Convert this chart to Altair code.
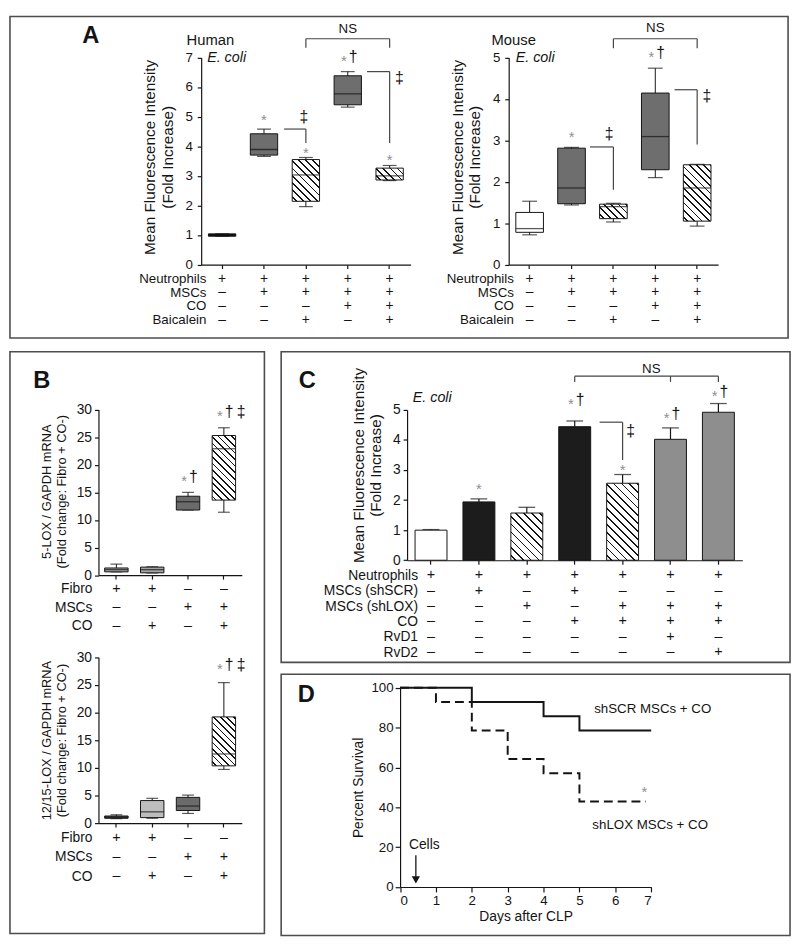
import altair as alt
import pandas as pd

FONT = "Liberation Sans"
INK = "#141414"
STARC = "#8f8f8f"
LINEC = "#444444"

# ---------------- Panel A data ----------------
A_rows = ["Neutrophils", "MSCs", "CO", "Baicalein"]
A_signs = [
    ["+", "+", "+", "+", "+"],
    ["–", "+", "+", "+", "+"],
    ["–", "–", "–", "+", "+"],
    ["–", "–", "+", "–", "+"],
]
human_min = [0.96, 3.66, 1.96, 5.32, 2.84]
human_q1 = [0.96, 3.70, 2.14, 5.40, 2.86]
human_med = [1.00, 3.89, 3.03, 5.77, 3.00]
human_q3 = [1.04, 4.42, 3.55, 6.38, 3.26]
human_max = [1.04, 4.58, 3.62, 6.52, 3.35]
human_fill = ["#111111", "#6e6e6e", "hatch", "#6e6e6e", "hatch"]
human_marks = [(1, 5.01, "*"), (2, 3.90, "*"), (3, 7.01, "*†"), (4, 3.67, "*")]
human_notes = [(1.95, 4.98, "‡"), (4.23, 6.29, "‡"), (3.0, 7.96, "NS")]
human_brackets = [(1.48, 2.0, 4.58, 4.58), (2.0, 2.0, 4.58, 4.11),
                  (3.46, 4.0, 6.52, 6.52), (4.0, 4.0, 6.52, 4.11),
                  (2.0, 4.0, 7.63, 7.63), (2.0, 2.0, 7.63, 7.33), (4.0, 4.0, 7.63, 7.33)]
human_labels = [(-0.85, 7.57, "Human", "normal"), (-0.357, 6.99, "E. coli", "italic")]
A_letter = [(-3.34, 7.50, "A")]

mouse_min = [0.72, 1.44, 1.03, 2.10, 0.93]
mouse_q1 = [0.78, 1.47, 1.11, 2.29, 1.05]
mouse_med = [0.87, 1.85, 1.40, 3.09, 1.85]
mouse_q3 = [1.26, 2.81, 1.46, 4.14, 2.41]
mouse_max = [1.53, 2.83, 1.48, 4.74, 2.42]
mouse_fill = ["#ffffff", "#6e6e6e", "hatch", "#6e6e6e", "hatch"]
mouse_marks = [(1, 3.17, "*"), (3, 5.10, "*†")]
mouse_notes = [(1.90, 3.14, "‡"), (4.23, 4.07, "‡"), (3.0, 5.70, "NS")]
mouse_brackets = [(1.44, 2.0, 2.84, 2.84), (2.0, 2.0, 2.84, 1.81),
                  (3.46, 4.0, 4.22, 4.22), (4.0, 4.0, 4.22, 2.90),
                  (2.0, 4.0, 5.45, 5.45), (2.0, 2.0, 5.45, 5.22), (4.0, 4.0, 5.45, 5.22)]
mouse_labels = [(-0.91, 5.41, "Mouse", "normal"), (-0.333, 4.98, "E. coli", "italic")]

# ---------------- Panel B data ----------------
B_rows = ["Fibro", "MSCs", "CO"]
B_signs = [["+", "+", "–", "–"], ["–", "–", "+", "+"], ["–", "+", "–", "+"]]
lox5_min = [0.60, 0.40, 11.8, 11.4]
lox5_q1 = [0.60, 0.42, 11.8, 13.6]
lox5_med = [1.00, 1.00, 13.3, 22.9]
lox5_q3 = [1.30, 1.46, 14.3, 25.3]
lox5_max = [2.00, 1.52, 15.0, 26.7]
lox5_fill = ["#a3a3a3", "#a3a3a3", "#6b6b6b", "hatch"]
lox5_marks = [(2, 17.7, "*†"), (3, 29.5, "*†‡")]
B_letter = [(-2.32, 33.98, "B")]

lox12_min = [0.80, 0.87, 1.74, 9.7]
lox12_q1 = [0.87, 0.99, 2.27, 10.35]
lox12_med = [1.05, 2.03, 3.08, 12.5]
lox12_q3 = [1.28, 4.07, 4.65, 19.2]
lox12_max = [1.50, 4.48, 5.06, 25.4]
lox12_fill = ["#505050", "#bdbdbd", "#6b6b6b", "hatch"]
lox12_marks = [(3, 28.5, "*†‡")]

# ---------------- Panel C data ----------------
C_rows = ["Neutrophils", "MSCs (shSCR)", "MSCs (shLOX)", "CO", "RvD1", "RvD2"]
C_signs = [
    ["+", "+", "+", "+", "+", "+", "+"],
    ["–", "+", "–", "+", "–", "–", "–"],
    ["–", "–", "+", "–", "+", "+", "+"],
    ["–", "–", "–", "+", "+", "+", "+"],
    ["–", "–", "–", "–", "–", "+", "–"],
    ["–", "–", "–", "–", "–", "–", "+"],
]
C_mean = [1.00, 1.94, 1.57, 4.44, 2.56, 4.02, 4.92]
C_top = [1.02, 2.04, 1.76, 4.63, 2.85, 4.40, 5.21]
C_fill = ["#ffffff", "#1c1c1c", "hatch", "#1c1c1c", "hatch", "#8e8e8e", "#8e8e8e"]
C_marks = [(1, 2.50, "*"), (3, 5.32, "*†"), (4, 3.12, "*"), (5, 4.87, "*†"), (6, 5.58, "*†")]
C_notes = [(4.17, 4.30, "‡"), (4.6, 6.36, "NS")]
C_brackets = [(3.52, 4.0, 4.59, 4.59), (4.0, 4.0, 4.59, 3.33),
              (3.0, 6.0, 6.12, 6.12), (3.0, 3.0, 6.12, 5.93), (5.0, 5.0, 6.12, 5.93), (6.0, 6.0, 6.12, 5.93)]
C_labels = [(-0.38, 5.39, "E. coli", "italic")]
C_letter = [(-2.76, 5.74, "C")]

# ---------------- Panel D data ----------------
D_scr_day = [0, 2, 4, 5, 7]
D_scr_pct = [100, 92.9, 85.7, 78.6, 78.6]
D_lox_day = [0, 1, 2, 3, 4, 5, 6.85]
D_lox_pct = [100, 92.9, 78.6, 64.3, 57.1, 42.9, 42.9]
D_labels = [(5.41, 89.5, "shSCR MSCs + CO"), (5.36, 31.1, "shLOX MSCs + CO")]
D_star = [(6.81, 49.4, "*")]
D_cells = [(0.675, 20.9, "Cells")]
D_arrow = [(0.44, 15.9, 5.0, 3.6)]
D_letter = [(-2.85, 92.7, "D")]

# ---------------- layout helpers ----------------
SX = 789 / 797
SY = 928 / 945


def lx(x, left):
    return (x - left) * SX


def ly(y, top):
    return (y - top) * SY


def hatch(w, h, period=7.0, lw=1.25):
    L = w + h
    k = L / (w * w + h * h)
    e = (lw * 1.414 / 2) / L
    stops = [{"color": "white", "offset": 0.0}]
    c = period * 0.6
    while c < L:
        t = c / L
        a, b = max(t - e, 0.0), min(t + e, 1.0)
        stops += [{"color": "white", "offset": a}, {"color": INK, "offset": a},
                  {"color": INK, "offset": b}, {"color": "white", "offset": b}]
        c += period
    stops.append({"color": "white", "offset": 1.0})
    return {"gradient": "linear", "stops": stops, "x1": 0, "y1": 1, "x2": k * w, "y2": 1 - k * h}


def text_layer(rows, xs, ys, **mk):
    df = pd.DataFrame(rows, columns=["x", "y", "t"])
    return alt.Chart(df).mark_text(font=FONT, **mk).encode(
        x=alt.X("x:Q", scale=xs, axis=None),
        y=alt.Y("y:Q", scale=ys, axis=None),
        text="t:N")


def letter_layer(rows, xs, ys):
    return text_layer(rows, xs, ys, fontSize=24, fontWeight="bold", color=INK,
                      align="left", baseline="alphabetic")


def annot_layers(xs, ys, marks, notes, brackets, labels):
    L = []
    solo = [(x, y, "*") for x, y, t in marks if t == "*"]
    combo = [(x, y, "*") for x, y, t in marks if t != "*"]
    dag = [(x, y, t[1:].replace("†‡", "†\u2009‡")) for x, y, t in marks if t != "*"]
    if solo:
        L.append(text_layer(solo, xs, ys, fontSize=15, color=STARC, dy=4, baseline="middle"))
    if combo:
        L.append(text_layer(combo, xs, ys, fontSize=15, color=STARC, dy=4, dx=-1, align="right", baseline="middle"))
        L.append(text_layer(dag, xs, ys, fontSize=16, color=INK, dx=1, align="left", baseline="middle"))
    dg = [n for n in notes if n[2] != "NS"]
    ns = [n for n in notes if n[2] == "NS"]
    if dg:
        L.append(text_layer(dg, xs, ys, fontSize=16, color=INK, baseline="middle"))
    if ns:
        L.append(text_layer(ns, xs, ys, fontSize=13.5, color=INK, baseline="middle"))
    if brackets:
        bdf = pd.DataFrame(brackets, columns=["x", "x2", "y", "y2"])
        L.append(alt.Chart(bdf).mark_rule(color=LINEC, strokeWidth=1.2).encode(
            x=alt.X("x:Q", scale=xs, axis=None), x2="x2:Q",
            y=alt.Y("y:Q", scale=ys, axis=None), y2="y2:Q"))
    for st in ["normal", "italic"]:
        rows = [(x, y, t) for x, y, t, s in labels if s == st]
        if rows:
            L.append(text_layer(rows, xs, ys, fontSize=15 if st == "normal" else 14.5,
                                fontStyle=st, color=INK, align="left", baseline="middle"))
    return L


def table_layer(xq, left, top, lay, rows, signs, n):
    rs = alt.Scale(type="point", domain=rows,
                   range=[ly(lay["rows"][0], top), ly(lay["rows"][-1], top)], padding=0)
    sdf = pd.DataFrame([{"i": i, "row": r, "s": signs[j][i]}
                        for j, r in enumerate(rows) for i in range(n)])
    raxis = alt.Axis(orient="left", domain=False, ticks=False, tickSize=0, labelPadding=0,
                     labelFontSize=lay["rfs"], offset=-lx(lay["row_right"], left), title=None,
                     labelOverlap=False, labelAlign="right", labelBaseline="middle", grid=False)
    return alt.Chart(sdf).mark_text(font=FONT, fontSize=lay["rfs"] + 0.5, color=INK,
                                    baseline="middle").encode(
        x=alt.X("i:Q", scale=xq, axis=None),
        y=alt.Y("row:N", scale=rs, axis=raxis),
        text="s:N")


def scales(left, top, lay, n):
    first, step = lay["first"], lay["step"]
    x0, x1 = lx(first - step / 2, left), lx(first + (n - 0.5) * step, left)
    y0, yt = ly(lay["y0"], top), ly(lay["ytop"], top)
    pin = 1 - lay["bw"] / step
    xb = alt.Scale(type="band", domain=list(range(n)), range=[x0, x1],
                   paddingInner=pin, paddingOuter=pin / 2, round=False)
    xq = alt.Scale(domain=[-0.5, n - 0.5], range=[x0, x1], nice=False, zero=False)
    ys = alt.Scale(domain=[0, lay["ymax"]], range=[y0, yt], nice=False, zero=False)
    return x0, y0, yt, xb, xq, ys


def axes(H, left, top, lay, x0, y0, ytitle, yticks, tsize):
    yaxis = alt.Axis(orient="left", values=yticks, tickSize=4, labelPadding=lay["lpad"],
                     labelFontSize=lay.get("yfs", 14), offset=-x0, title=ytitle,
                     titleFontSize=tsize, titlePadding=lay["tpad"],
                     titleY=ly(lay["title_y"], top), grid=False)
    xaxis = alt.Axis(orient="bottom", labels=False, ticks=True, tickSize=4,
                     offset=-(H - y0), title=None, bandPosition=0.5, grid=False)
    return xaxis, yaxis


def box_sub(left, top, H, lay, stats, fills, rows, signs, marks, notes, brackets, labels,
            ytitle, yticks, tsize, period, letter=None):
    n = len(fills)
    x0, y0, yt, xb, xq, ys = scales(left, top, lay, n)
    unit = (y0 - yt) / lay["ymax"]
    bw = lay["bw"] * SX
    xaxis, yaxis = axes(H, left, top, lay, x0, y0, ytitle, yticks, tsize)
    df = pd.DataFrame({"i": list(range(n)), "lo": stats[0], "q1": stats[1], "med": stats[2],
                       "q3": stats[3], "hi": stats[4], "fill": fills})
    base = alt.Chart(df)
    X = alt.X("i:Q", scale=xq, axis=None)
    L = [base.mark_rule(color=INK, strokeWidth=1).encode(
        x=X, y=alt.Y("lo:Q", scale=ys, axis=None), y2="hi:Q")]
    for f in ["lo", "hi"]:
        L.append(base.mark_tick(orient="horizontal", size=lay["cap"], thickness=1.2, color=INK).encode(
            x=X, y=alt.Y(f + ":Q", scale=ys, axis=None)))
    solid = [i for i in range(n) if fills[i] != "hatch"]
    L.append(base.mark_bar(stroke=INK, strokeWidth=1).encode(
        x=alt.X("i:O", scale=xb, axis=xaxis),
        y=alt.Y("q1:Q", scale=ys, axis=yaxis), y2="q3:Q",
        color=alt.Color("fill:N", scale=None)
    ).transform_filter(alt.FieldOneOfPredicate(field="i", oneOf=solid)))
    for i in range(n):
        if fills[i] == "hatch":
            h = (stats[3][i] - stats[1][i]) * unit
            L.append(base.mark_bar(fill=hatch(bw, h, period), stroke=INK, strokeWidth=1).encode(
                x=alt.X("i:O", scale=xb, axis=None),
                y=alt.Y("q1:Q", scale=ys, axis=None), y2="q3:Q"
            ).transform_filter(alt.datum.i == i))
    L.append(base.mark_tick(orient="horizontal", size=bw, thickness=1.3, color=INK).encode(
        x=X, y=alt.Y("med:Q", scale=ys, axis=None)))
    L.append(table_layer(xq, left, top, lay, rows, signs, n))
    L += annot_layers(xq, ys, marks, notes, brackets, labels)
    if letter:
        L.append(letter_layer(letter, xq, ys))
    return L


TITLE_MFI = ["Mean Fluorescence Intensity", "(Fold Increase)"]

# ---------------- Panel A ----------------
AL, AT, AW, AH = 1, 1, 789, 326
A_row_y = [272.0, 286.0, 300.0, 314.0]
lay_h = dict(first=218.3, step=42.9, y0=257.3, ytop=43.3, ymax=7, bw=28, cap=14,
             rows=A_row_y, row_right=201.7, title_y=146, lpad=5, tpad=10,
             rfs=13.5, yfs=13.5)
lay_m = dict(first=533.3, step=42.9, y0=257.3, ytop=43.3, ymax=5, bw=28.3, cap=15,
             rows=A_row_y, row_right=516.7, title_y=146, lpad=5, tpad=10,
             rfs=13.5, yfs=13.5)
A_layers = box_sub(AL, AT, AH, lay_h,
                   [human_min, human_q1, human_med, human_q3, human_max], human_fill,
                   A_rows, A_signs, human_marks, human_notes, human_brackets, human_labels,
                   TITLE_MFI, list(range(0, 8)), 15.5, 7.3, A_letter)
A_layers += box_sub(AL, AT, AH, lay_m,
                    [mouse_min, mouse_q1, mouse_med, mouse_q3, mouse_max], mouse_fill,
                    A_rows, A_signs, mouse_marks, mouse_notes, mouse_brackets, mouse_labels,
                    TITLE_MFI, list(range(0, 6)), 15.5, 7.3)
panelA = alt.layer(*A_layers).resolve_scale(x="independent", y="independent").properties(
    width=AW, height=AH)

# ---------------- Panel B ----------------
BL, BT, BW, BH = 1, 345, 258, 590
lay_b1 = dict(first=110, step=36.7, y0=575.7, ytop=404.7, ymax=30, bw=24, cap=12,
              rows=[590, 609, 628], row_right=85, title_y=489, lpad=3, tpad=8, rfs=14)
lay_b2 = dict(first=110, step=36.7, y0=831.7, ytop=660.4, ymax=30, bw=24, cap=12,
              rows=[846.7, 866.7, 886.7], row_right=85, title_y=746, lpad=3, tpad=8, rfs=14)
B_layers = box_sub(BL, BT, BH, lay_b1,
                   [lox5_min, lox5_q1, lox5_med, lox5_q3, lox5_max], lox5_fill,
                   B_rows, B_signs, lox5_marks, [], [], [],
                   ["5-LOX / GAPDH mRNA", "(Fold change: Fibro + CO-)"],
                   list(range(0, 31, 5)), 13, 6.7, B_letter)
B_layers += box_sub(BL, BT, BH, lay_b2,
                    [lox12_min, lox12_q1, lox12_med, lox12_q3, lox12_max], lox12_fill,
                    B_rows, B_signs, lox12_marks, [], [], [],
                    ["12/15-LOX / GAPDH mRNA", "(Fold change: Fibro + CO-)"],
                    list(range(0, 31, 5)), 13, 6.7)
panelB = alt.layer(*B_layers).resolve_scale(x="independent", y="independent").properties(
    width=BW, height=BH)

# ---------------- Panel C ----------------
CL, CT, CW, CH = 277, 345, 516, 315
lay_c = dict(first=430.5, step=49.06, y0=560.3, ytop=405, ymax=5, bw=32.7, cap=17,
             rows=[575.7, 592.3, 608.3, 624, 639.8, 655.5], row_right=416.7, title_y=462,
             lpad=3, tpad=9, rfs=14)
nC = len(C_mean)
cx0, cy0, cyt, cxb, cxq, cys = scales(CL, CT, lay_c, nC)
cunit = (cy0 - cyt) / lay_c["ymax"]
cxaxis, cyaxis = axes(CH, CL, CT, lay_c, cx0, cy0, TITLE_MFI, list(range(0, 6)), 15.5)
cdf = pd.DataFrame({"i": list(range(nC)), "m": C_mean, "e": C_top, "fill": C_fill})
cbase = alt.Chart(cdf)
CX = alt.X("i:Q", scale=cxq, axis=None)
C_layers = [
    cbase.mark_rule(color=INK, strokeWidth=1.2).encode(
        x=CX, y=alt.Y("m:Q", scale=cys, axis=None), y2="e:Q"),
    cbase.mark_tick(orient="horizontal", size=lay_c["cap"], thickness=1.3, color=INK).encode(
        x=CX, y=alt.Y("e:Q", scale=cys, axis=None)),
    cbase.mark_bar(stroke=INK, strokeWidth=1).encode(
        x=alt.X("i:O", scale=cxb, axis=cxaxis),
        y=alt.Y("m:Q", scale=cys, axis=cyaxis), y2=alt.datum(0),
        color=alt.Color("fill:N", scale=None)
    ).transform_filter(alt.FieldOneOfPredicate(field="i", oneOf=[i for i in range(nC) if C_fill[i] != "hatch"])),
]
for i in range(nC):
    if C_fill[i] == "hatch":
        C_layers.append(cbase.mark_bar(fill=hatch(lay_c["bw"] * SX, C_mean[i] * cunit, 8.0),
                                       stroke=INK, strokeWidth=1).encode(
            x=alt.X("i:O", scale=cxb, axis=None),
            y=alt.Y("m:Q", scale=cys, axis=None), y2=alt.datum(0)
        ).transform_filter(alt.datum.i == i))
C_layers.append(table_layer(cxq, CL, CT, lay_c, C_rows, C_signs, nC))
C_layers += annot_layers(cxq, cys, C_marks, C_notes, C_brackets, C_labels)
C_layers.append(letter_layer(C_letter, cxq, cys))
panelC = alt.layer(*C_layers).resolve_scale(x="independent", y="independent").properties(
    width=CW, height=CH)

# ---------------- Panel D ----------------
DL, DT, DW, DH = 277, 676, 516, 265
dx0, dx7 = lx(398.8, DL), lx(656, DL)
dy0, dy100 = ly(895.7, DT), ly(690, DT)
dxs = alt.Scale(domain=[0, 7], range=[dx0, dx7], nice=False, zero=False)
dys = alt.Scale(domain=[0, 100], range=[dy0, dy100], nice=False, zero=False)
dxaxis = alt.Axis(orient="bottom", values=list(range(0, 8)), tickSize=5, labelPadding=2,
                  labelFontSize=13.5, offset=-(DH - dy0), title="Days after CLP",
                  titleFontSize=14, titlePadding=3, grid=False)
dyaxis = alt.Axis(orient="left", values=list(range(0, 101, 20)), tickSize=5, labelPadding=2,
                  labelFontSize=13.5, offset=-dx0, title="Percent Survival",
                  titleFontSize=14, titlePadding=6, grid=False)
scr = pd.DataFrame({"day": D_scr_day, "pct": D_scr_pct})
lox = pd.DataFrame({"day": D_lox_day, "pct": D_lox_pct})
arrow = pd.DataFrame(D_arrow, columns=["day", "top", "end", "head"])
D_layers = [
    alt.Chart(lox).mark_line(interpolate="step-after", color=INK, strokeWidth=2,
                             strokeDash=[9, 5]).encode(
        x=alt.X("day:Q", scale=dxs, axis=None), y=alt.Y("pct:Q", scale=dys, axis=None)),
    alt.Chart(scr).mark_line(interpolate="step-after", color=INK, strokeWidth=2).encode(
        x=alt.X("day:Q", scale=dxs, axis=dxaxis), y=alt.Y("pct:Q", scale=dys, axis=dyaxis)),
    text_layer(D_labels, dxs, dys, fontSize=13.5, color=INK, align="left", baseline="middle"),
    text_layer(D_star, dxs, dys, fontSize=15, color=STARC, dy=4, baseline="middle"),
    text_layer(D_cells, dxs, dys, fontSize=14, color=INK, baseline="middle"),
    alt.Chart(arrow).mark_rule(color=INK, strokeWidth=1.3).encode(
        x=alt.X("day:Q", scale=dxs, axis=None), y=alt.Y("top:Q", scale=dys, axis=None), y2="end:Q"),
    alt.Chart(arrow).mark_point(shape="triangle-down", filled=True, size=70, color=INK, opacity=1).encode(
        x=alt.X("day:Q", scale=dxs, axis=None), y=alt.Y("head:Q", scale=dys, axis=None)),
    letter_layer(D_letter, dxs, dys),
]
panelD = alt.layer(*D_layers).resolve_scale(x="independent", y="independent").properties(
    width=DW, height=DH)

chart = alt.vconcat(
    panelA,
    alt.hconcat(panelB, alt.vconcat(panelC, panelD, spacing=10), spacing=15),
    spacing=12,
).properties(padding=1).configure_view(
    stroke="#4d4d4d", strokeWidth=1.6
).configure_axis(
    labelFont=FONT, titleFont=FONT, labelColor=INK, titleColor=INK,
    domainColor=INK, tickColor=INK, domainWidth=1.2, tickWidth=1.2,
    titleFontWeight="normal", grid=False
).configure_text(font=FONT)

chart.save("out.html", embed_options={"renderer": "svg", "actions": False})
